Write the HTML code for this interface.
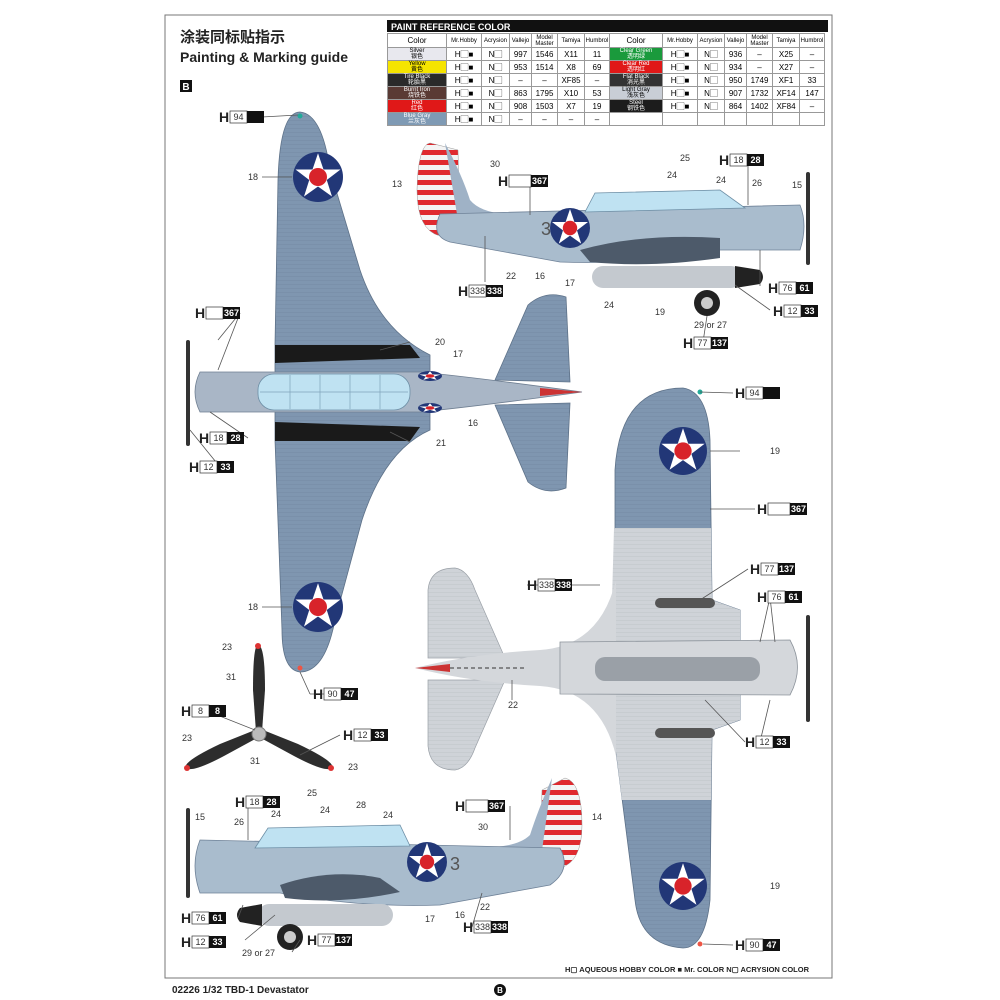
<!DOCTYPE html>
<html><head><meta charset="utf-8"><style>
body{margin:0;background:#fff;width:1000px;height:1000px;overflow:hidden;font-family:"Liberation Sans","Noto Sans CJK SC",sans-serif}
svg{position:absolute;left:0;top:0}
.n{font:9px "Liberation Sans",sans-serif;fill:#333}
.h{font:bold 14px "Liberation Sans",sans-serif;fill:#222}
.b{font:9px "Liberation Sans",sans-serif;fill:#333;text-anchor:middle}
.w{font:bold 9px "Liberation Sans",sans-serif;fill:#fff;text-anchor:middle}
.l{stroke:#555;stroke-width:.8;fill:none}
table{position:absolute;left:387px;top:33px;border-collapse:collapse;font-size:8px;text-align:center}
td{border:1px solid #999;height:11px;padding:0;line-height:9px}
.t{font-size:6px;line-height:6px}
</style></head><body>
<svg width="1000" height="1000" viewBox="0 0 1000 1000">
<defs>
<g id="rd"><circle r="1" fill="#223777"/><polygon fill="#fff" points="0,-0.95 0.22,-0.3 0.9,-0.3 0.35,0.12 0.56,0.78 0,0.38 -0.56,0.78 -0.35,0.12 -0.9,-0.3 -0.22,-0.3"/><circle r="0.36" fill="#d8232a"/></g>
<pattern id="pl" width="4" height="4" patternUnits="userSpaceOnUse"><rect width="4" height="4" fill="#7f96b0"/><line x1="0" y1="0" x2="4" y2="0" stroke="#6c829c" stroke-width=".6"/></pattern>
<pattern id="pg" width="4" height="4" patternUnits="userSpaceOnUse"><rect width="4" height="4" fill="#cfd3d8"/><line x1="0" y1="0" x2="4" y2="0" stroke="#b5bac0" stroke-width=".6"/></pattern>
<pattern id="st" width="10" height="10" patternUnits="userSpaceOnUse"><rect width="10" height="5" fill="#e02a2f"/><rect y="5" width="10" height="5" fill="#f4f4f4"/></pattern>
</defs>
<rect x="165" y="15" width="667" height="963" fill="none" stroke="#777" stroke-width="1"/>
<text x="180" y="42" style="font:bold 15px 'Noto Sans CJK SC',sans-serif;fill:#222">涂装同标贴指示</text>
<text x="180" y="62" style="font:bold 14px 'Liberation Sans',sans-serif;fill:#222">Painting &amp; Marking guide</text>
<rect x="180" y="80" width="12" height="12" fill="#111"/><text x="186" y="90" class="w" style="font-size:10px">B</text>
<rect x="387" y="20" width="441" height="12" fill="#111"/><text x="391" y="30" style="font:bold 9px 'Liberation Sans';fill:#fff">PAINT  REFERENCE COLOR</text>

<!-- TOP VIEW (left) -->
<path d="M275,345 L278,180 Q280,112 300,112 Q322,114 330,170 L360,270 Q380,330 430,355 L430,430 Q385,450 362,520 L335,620 Q325,672 300,672 Q282,670 282,630 L275,440 Z" fill="url(#pl)" stroke="#5d7188" stroke-width=".8"/>
<path d="M275,345 L410,345 L420,358 L275,363 Z" fill="#1a1a1a"/>
<path d="M275,422 L420,427 L410,441 L275,441 Z" fill="#1a1a1a"/>
<path d="M495,380 L528,305 Q545,290 566,297 L570,382 Z" fill="url(#pl)" stroke="#5d7188" stroke-width=".8"/>
<path d="M495,405 L528,482 Q545,496 566,488 L570,403 Z" fill="url(#pl)" stroke="#5d7188" stroke-width=".8"/>
<path d="M200,372 L420,372 Q480,378 582,392 Q480,406 420,412 L200,412 Q190,392 200,372 Z" fill="#a9b6c6" stroke="#6f7f92" stroke-width=".8"/>
<path d="M540,388 L582,392 L540,396 Z" fill="#c33"/>
<rect x="258" y="374" width="152" height="36" rx="16" fill="#bfe2f2" stroke="#6d8ea5" stroke-width=".8"/>
<g stroke="#7fa3ba" stroke-width=".7"><line x1="290" y1="375" x2="290" y2="409"/><line x1="320" y1="375" x2="320" y2="409"/><line x1="350" y1="375" x2="350" y2="409"/><line x1="380" y1="375" x2="380" y2="409"/><line x1="260" y1="392" x2="408" y2="392"/></g>
<use href="#rd" transform="translate(318,177) scale(25)"/>
<use href="#rd" transform="translate(318,607) scale(25)"/>
<use href="#rd" transform="translate(430,376) scale(12,5)"/>
<use href="#rd" transform="translate(430,408) scale(12,5)"/>
<rect x="186" y="340" width="4" height="106" rx="2" fill="#333"/>
<circle cx="300" cy="116" r="2.5" fill="#2a9"/><circle cx="300" cy="668" r="2.5" fill="#e54"/>

<!-- PROPELLER -->
<path d="M258,645 Q265,645 265,690 L262,732 L256,732 L253,690 Q253,645 258,645 Z" fill="#2d2d2d"/>
<path d="M186,768 Q182,762 220,744 L255,730 L259,737 L224,756 Q192,773 186,768 Z" fill="#2d2d2d"/>
<path d="M332,768 Q336,762 298,744 L263,730 L259,737 L294,756 Q326,773 332,768 Z" fill="#2d2d2d"/>
<circle cx="259" cy="734" r="7" fill="#bbb" stroke="#777"/>
<circle cx="258" cy="646" r="3" fill="#d33"/><circle cx="187" cy="768" r="3" fill="#d33"/><circle cx="331" cy="768" r="3" fill="#d33"/>

<!-- SIDE VIEW top-right -->
<path d="M430,143 Q418,145 417,190 Q417,230 440,236 L460,230 L458,150 Z" fill="url(#st)" stroke="#999" stroke-width=".5"/>
<path d="M445,143 Q462,175 470,200 Q480,212 505,214 L460,232 Z" fill="#9fb2c6"/>
<path d="M440,214 L800,205 Q808,225 800,250 L720,250 Q640,265 560,262 L450,242 Q430,236 440,214 Z" fill="#a9bccd" stroke="#6f8298" stroke-width=".8"/>
<path d="M585,212 L595,193 L720,190 L745,208 Z" fill="#bfe2f2" stroke="#6d8ea5" stroke-width=".8"/>
<path d="M580,250 Q640,233 720,238 L720,258 Q650,268 590,262 Z" fill="#4d5a6a"/>
<rect x="592" y="266" width="150" height="22" rx="11" fill="#c4c9cf"/><path d="M735,266 L760,270 Q766,277 760,284 L735,288 Z" fill="#222"/>
<circle cx="707" cy="303" r="13" fill="#222"/><circle cx="707" cy="303" r="6" fill="#ccc"/>
<rect x="806" y="172" width="4" height="93" rx="2" fill="#333"/>
<use href="#rd" transform="translate(570,228) scale(20)"/>
<text x="541" y="235" style="font:18px 'Liberation Sans';fill:#555">3</text>

<!-- SIDE VIEW bottom-left -->
<path d="M565,778 Q582,782 582,825 Q582,862 560,868 L540,862 L542,790 Z" fill="url(#st)" stroke="#999" stroke-width=".5"/>
<path d="M552,778 Q538,810 530,835 Q520,845 495,847 L540,865 Z" fill="#9fb2c6"/>
<path d="M560,848 L200,840 Q190,865 200,893 L280,893 Q360,908 440,905 L550,885 Q572,870 560,848 Z" fill="#a9bccd" stroke="#6f8298" stroke-width=".8"/>
<path d="M255,848 L268,828 L400,825 L410,846 Z" fill="#bfe2f2" stroke="#6d8ea5" stroke-width=".8"/>
<path d="M280,885 Q330,868 380,878 L400,892 Q340,905 285,898 Z" fill="#4d5a6a"/>
<rect x="258" y="904" width="135" height="22" rx="11" fill="#c4c9cf"/><path d="M262,904 L240,908 Q234,915 240,922 L262,926 Z" fill="#222"/>
<circle cx="290" cy="937" r="13" fill="#222"/><circle cx="290" cy="937" r="6" fill="#ccc"/>
<rect x="186" y="808" width="4" height="90" rx="2" fill="#333"/>
<use href="#rd" transform="translate(427,862) scale(20)"/>
<text x="450" y="870" style="font:18px 'Liberation Sans';fill:#555">3</text>

<!-- BOTTOM VIEW right -->
<path d="M615,640 L615,470 Q620,388 683,388 Q708,392 710,440 L712,600 L740,610 L740,720 L712,730 L710,900 Q705,948 683,948 Q640,945 635,900 L612,720 Z" fill="url(#pl)" stroke="#5d7188" stroke-width=".8"/>
<path d="M614,528 L711,528 L712,600 L740,610 L740,720 L712,730 L711,800 L622,800 L612,720 L612,600 Z" fill="url(#pg)"/>
<path d="M428,658 L428,590 Q430,568 455,568 Q468,570 475,590 L505,658 Z" fill="url(#pg)" stroke="#9aa0a7" stroke-width=".7"/>
<path d="M428,680 L428,746 Q430,770 455,770 Q468,768 475,748 L505,680 Z" fill="url(#pg)" stroke="#9aa0a7" stroke-width=".7"/>
<path d="M415,668 Q470,654 540,650 Q600,646 616,580 L616,756 Q600,690 540,686 Q470,682 415,668 Z" fill="#d4d7db"/>
<path d="M560,642 L790,640 Q805,667 790,695 L560,694 Z" fill="#d4d7db" stroke="#8c939b" stroke-width=".8"/>
<path d="M415,668 L450,664 L450,672 Z" fill="#c33"/>
<line x1="450" y1="668" x2="525" y2="668" stroke="#333" stroke-dasharray="4,3"/>
<rect x="595" y="657" width="165" height="24" rx="10" fill="#9aa0a7"/>
<rect x="655" y="598" width="60" height="10" rx="5" fill="#555"/><rect x="655" y="728" width="60" height="10" rx="5" fill="#555"/>
<rect x="806" y="615" width="4" height="107" rx="2" fill="#333"/>
<use href="#rd" transform="translate(683,451) scale(24)"/>
<use href="#rd" transform="translate(683,886) scale(24)"/>
<circle cx="700" cy="392" r="2.5" fill="#2a9"/><circle cx="700" cy="944" r="2.5" fill="#e54"/>

<!-- leader lines -->
<g class="l">
<line x1="262" y1="117" x2="298" y2="115"/><line x1="262" y1="177" x2="292" y2="177"/><line x1="240" y1="313" x2="218" y2="340"/>
<line x1="240" y1="313" x2="218" y2="370"/><line x1="262" y1="607" x2="292" y2="607"/><line x1="410" y1="342" x2="380" y2="350"/>
<line x1="410" y1="442" x2="390" y2="432"/><line x1="248" y1="438" x2="210" y2="412"/><line x1="220" y1="467" x2="190" y2="430"/>
<line x1="300" y1="672" x2="310" y2="694"/><line x1="310" y1="694" x2="328" y2="694"/>
<line x1="207" y1="711" x2="255" y2="730"/><line x1="340" y1="735" x2="300" y2="755"/>
<line x1="733" y1="393" x2="700" y2="392"/><line x1="740" y1="451" x2="710" y2="451"/><line x1="755" y1="509" x2="710" y2="509"/>
<line x1="527" y1="585" x2="600" y2="585"/><line x1="748" y1="569" x2="700" y2="600"/><line x1="770" y1="597" x2="760" y2="642"/><line x1="770" y1="597" x2="775" y2="642"/>
<line x1="745" y1="742" x2="705" y2="700"/><line x1="760" y1="742" x2="770" y2="700"/><line x1="733" y1="945" x2="703" y2="944"/>
<line x1="748" y1="160" x2="748" y2="205"/><line x1="760" y1="286" x2="760" y2="250"/><line x1="770" y1="310" x2="735" y2="285"/>
<line x1="703" y1="342" x2="707" y2="316"/><line x1="485" y1="282" x2="485" y2="236"/><line x1="530" y1="183" x2="530" y2="215"/>
<line x1="248" y1="802" x2="248" y2="840"/><line x1="238" y1="918" x2="243" y2="905"/><line x1="245" y1="940" x2="275" y2="915"/>
<line x1="300" y1="940" x2="292" y2="952"/><line x1="472" y1="927" x2="482" y2="893"/><line x1="510" y1="806" x2="510" y2="840"/>
<line x1="512" y1="700" x2="512" y2="680"/>
</g>

<!-- H labels -->
<g>
<g transform="translate(219,117)"><text class="h" y="5">H</text><rect x="11" y="-6" width="17" height="12" fill="#fff" stroke="#333" stroke-width=".7"/><text x="19.5" y="3" class="b">94</text><rect x="28" y="-6" width="17" height="12" fill="#111"/></g>
<g transform="translate(195,313)"><text class="h" y="5">H</text><rect x="11" y="-6" width="17" height="12" fill="#fff" stroke="#333" stroke-width=".7"/><rect x="28" y="-6" width="17" height="12" fill="#111"/><text x="36.5" y="3" class="w">367</text></g>
<g transform="translate(199,438)"><text class="h" y="5">H</text><rect x="11" y="-6" width="17" height="12" fill="#fff" stroke="#333" stroke-width=".7"/><text x="19.5" y="3" class="b">18</text><rect x="28" y="-6" width="17" height="12" fill="#111"/><text x="36.5" y="3" class="w">28</text></g>
<g transform="translate(189,467)"><text class="h" y="5">H</text><rect x="11" y="-6" width="17" height="12" fill="#fff" stroke="#333" stroke-width=".7"/><text x="19.5" y="3" class="b">12</text><rect x="28" y="-6" width="17" height="12" fill="#111"/><text x="36.5" y="3" class="w">33</text></g>
<g transform="translate(313,694)"><text class="h" y="5">H</text><rect x="11" y="-6" width="17" height="12" fill="#fff" stroke="#333" stroke-width=".7"/><text x="19.5" y="3" class="b">90</text><rect x="28" y="-6" width="17" height="12" fill="#111"/><text x="36.5" y="3" class="w">47</text></g>
<g transform="translate(181,711)"><text class="h" y="5">H</text><rect x="11" y="-6" width="17" height="12" fill="#fff" stroke="#333" stroke-width=".7"/><text x="19.5" y="3" class="b">8</text><rect x="28" y="-6" width="17" height="12" fill="#111"/><text x="36.5" y="3" class="w">8</text></g>
<g transform="translate(343,735)"><text class="h" y="5">H</text><rect x="11" y="-6" width="17" height="12" fill="#fff" stroke="#333" stroke-width=".7"/><text x="19.5" y="3" class="b">12</text><rect x="28" y="-6" width="17" height="12" fill="#111"/><text x="36.5" y="3" class="w">33</text></g>
<g transform="translate(719,160)"><text class="h" y="5">H</text><rect x="11" y="-6" width="17" height="12" fill="#fff" stroke="#333" stroke-width=".7"/><text x="19.5" y="3" class="b">18</text><rect x="28" y="-6" width="17" height="12" fill="#111"/><text x="36.5" y="3" class="w">28</text></g>
<g transform="translate(498,181)"><text class="h" y="5">H</text><rect x="11" y="-6" width="22" height="12" fill="#fff" stroke="#333" stroke-width=".7"/><rect x="33" y="-6" width="17" height="12" fill="#111"/><text x="41.5" y="3" class="w">367</text></g>
<g transform="translate(458,291)"><text class="h" y="5">H</text><rect x="11" y="-6" width="17" height="12" fill="#fff" stroke="#333" stroke-width=".7"/><text x="19.5" y="3" class="b">338</text><rect x="28" y="-6" width="17" height="12" fill="#111"/><text x="36.5" y="3" class="w">338</text></g>
<g transform="translate(768,288)"><text class="h" y="5">H</text><rect x="11" y="-6" width="17" height="12" fill="#fff" stroke="#333" stroke-width=".7"/><text x="19.5" y="3" class="b">76</text><rect x="28" y="-6" width="17" height="12" fill="#111"/><text x="36.5" y="3" class="w">61</text></g>
<g transform="translate(773,311)"><text class="h" y="5">H</text><rect x="11" y="-6" width="17" height="12" fill="#fff" stroke="#333" stroke-width=".7"/><text x="19.5" y="3" class="b">12</text><rect x="28" y="-6" width="17" height="12" fill="#111"/><text x="36.5" y="3" class="w">33</text></g>
<g transform="translate(683,343)"><text class="h" y="5">H</text><rect x="11" y="-6" width="17" height="12" fill="#fff" stroke="#333" stroke-width=".7"/><text x="19.5" y="3" class="b">77</text><rect x="28" y="-6" width="17" height="12" fill="#111"/><text x="36.5" y="3" class="w">137</text></g>
<g transform="translate(735,393)"><text class="h" y="5">H</text><rect x="11" y="-6" width="17" height="12" fill="#fff" stroke="#333" stroke-width=".7"/><text x="19.5" y="3" class="b">94</text><rect x="28" y="-6" width="17" height="12" fill="#111"/></g>
<g transform="translate(757,509)"><text class="h" y="5">H</text><rect x="11" y="-6" width="22" height="12" fill="#fff" stroke="#333" stroke-width=".7"/><rect x="33" y="-6" width="17" height="12" fill="#111"/><text x="41.5" y="3" class="w">367</text></g>
<g transform="translate(527,585)"><text class="h" y="5">H</text><rect x="11" y="-6" width="17" height="12" fill="#fff" stroke="#333" stroke-width=".7"/><text x="19.5" y="3" class="b">338</text><rect x="28" y="-6" width="17" height="12" fill="#111"/><text x="36.5" y="3" class="w">338</text></g>
<g transform="translate(750,569)"><text class="h" y="5">H</text><rect x="11" y="-6" width="17" height="12" fill="#fff" stroke="#333" stroke-width=".7"/><text x="19.5" y="3" class="b">77</text><rect x="28" y="-6" width="17" height="12" fill="#111"/><text x="36.5" y="3" class="w">137</text></g>
<g transform="translate(757,597)"><text class="h" y="5">H</text><rect x="11" y="-6" width="17" height="12" fill="#fff" stroke="#333" stroke-width=".7"/><text x="19.5" y="3" class="b">76</text><rect x="28" y="-6" width="17" height="12" fill="#111"/><text x="36.5" y="3" class="w">61</text></g>
<g transform="translate(745,742)"><text class="h" y="5">H</text><rect x="11" y="-6" width="17" height="12" fill="#fff" stroke="#333" stroke-width=".7"/><text x="19.5" y="3" class="b">12</text><rect x="28" y="-6" width="17" height="12" fill="#111"/><text x="36.5" y="3" class="w">33</text></g>
<g transform="translate(735,945)"><text class="h" y="5">H</text><rect x="11" y="-6" width="17" height="12" fill="#fff" stroke="#333" stroke-width=".7"/><text x="19.5" y="3" class="b">90</text><rect x="28" y="-6" width="17" height="12" fill="#111"/><text x="36.5" y="3" class="w">47</text></g>
<g transform="translate(235,802)"><text class="h" y="5">H</text><rect x="11" y="-6" width="17" height="12" fill="#fff" stroke="#333" stroke-width=".7"/><text x="19.5" y="3" class="b">18</text><rect x="28" y="-6" width="17" height="12" fill="#111"/><text x="36.5" y="3" class="w">28</text></g>
<g transform="translate(455,806)"><text class="h" y="5">H</text><rect x="11" y="-6" width="22" height="12" fill="#fff" stroke="#333" stroke-width=".7"/><rect x="33" y="-6" width="17" height="12" fill="#111"/><text x="41.5" y="3" class="w">367</text></g>
<g transform="translate(181,918)"><text class="h" y="5">H</text><rect x="11" y="-6" width="17" height="12" fill="#fff" stroke="#333" stroke-width=".7"/><text x="19.5" y="3" class="b">76</text><rect x="28" y="-6" width="17" height="12" fill="#111"/><text x="36.5" y="3" class="w">61</text></g>
<g transform="translate(181,942)"><text class="h" y="5">H</text><rect x="11" y="-6" width="17" height="12" fill="#fff" stroke="#333" stroke-width=".7"/><text x="19.5" y="3" class="b">12</text><rect x="28" y="-6" width="17" height="12" fill="#111"/><text x="36.5" y="3" class="w">33</text></g>
<g transform="translate(307,940)"><text class="h" y="5">H</text><rect x="11" y="-6" width="17" height="12" fill="#fff" stroke="#333" stroke-width=".7"/><text x="19.5" y="3" class="b">77</text><rect x="28" y="-6" width="17" height="12" fill="#111"/><text x="36.5" y="3" class="w">137</text></g>
<g transform="translate(463,927)"><text class="h" y="5">H</text><rect x="11" y="-6" width="17" height="12" fill="#fff" stroke="#333" stroke-width=".7"/><text x="19.5" y="3" class="b">338</text><rect x="28" y="-6" width="17" height="12" fill="#111"/><text x="36.5" y="3" class="w">338</text></g>
</g>

<!-- numbers -->
<g class="n">
<text x="248" y="180">18</text><text x="248" y="610">18</text><text x="435" y="345">20</text><text x="453" y="357">17</text><text x="468" y="426">16</text><text x="436" y="446">21</text>
<text x="222" y="650">23</text><text x="226" y="680">31</text><text x="182" y="741">23</text><text x="250" y="764">31</text><text x="348" y="770">23</text>
<text x="490" y="167">30</text><text x="392" y="187">13</text><text x="680" y="161">25</text><text x="667" y="178">24</text><text x="716" y="183">24</text><text x="752" y="186">26</text><text x="792" y="188">15</text>
<text x="506" y="279">22</text><text x="535" y="279">16</text><text x="565" y="286">17</text><text x="604" y="308">24</text><text x="655" y="315">19</text><text x="694" y="328">29 or 27</text>
<text x="770" y="454">19</text><text x="508" y="708">22</text><text x="770" y="889">19</text>
<text x="307" y="796">25</text><text x="320" y="813">24</text><text x="271" y="817">24</text><text x="356" y="808">28</text><text x="383" y="818">24</text><text x="234" y="825">26</text><text x="195" y="820">15</text>
<text x="478" y="830">30</text><text x="592" y="820">14</text><text x="425" y="922">17</text><text x="455" y="918">16</text><text x="480" y="910">22</text><text x="242" y="956">29 or 27</text>
</g>

<text x="172" y="993" style="font:bold 10px 'Liberation Sans';fill:#222">02226 1/32 TBD-1 Devastator</text>
<circle cx="500" cy="990" r="6" fill="#111"/><text x="500" y="993" class="w" style="font-size:8px">B</text>
<text x="565" y="972" style="font:bold 7.5px 'Liberation Sans';fill:#222">H▢ AQUEOUS HOBBY COLOR   ■ Mr. COLOR   N▢ ACRYSION COLOR</text>
</svg>
<table>
<tr style="height:14px"><td style="width:58px;font-size:8px">Color</td><td style="width:34px" class="t">Mr.Hobby</td><td style="width:27px" class="t">Acrysion</td><td style="width:21px" class="t">Vallejo</td><td style="width:25px" class="t">Model Master</td><td style="width:26px" class="t">Tamiya</td><td style="width:24px" class="t">Humbrol</td><td style="width:52px">Color</td><td style="width:34px" class="t">Mr.Hobby</td><td style="width:26px" class="t">Acrysion</td><td style="width:21px" class="t">Vallejo</td><td style="width:25px" class="t">Model Master</td><td style="width:26px" class="t">Tamiya</td><td style="width:24px" class="t">Humbrol</td></tr>
<tr><td class="t" style="background:#e8e8ee">Silver<br>银色</td><td>H▢■</td><td>N▢</td><td>997</td><td>1546</td><td>X11</td><td>11</td><td class="t" style="background:#1a9a3c;color:#fff">Clear Green<br>透明绿</td><td>H▢■</td><td>N▢</td><td>936</td><td>–</td><td>X25</td><td>–</td></tr>
<tr><td class="t" style="background:#f5e400">Yellow<br>黄色</td><td>H▢■</td><td>N▢</td><td>953</td><td>1514</td><td>X8</td><td>69</td><td class="t" style="background:#e01818;color:#fff">Clear Red<br>透明红</td><td>H▢■</td><td>N▢</td><td>934</td><td>–</td><td>X27</td><td>–</td></tr>
<tr><td class="t" style="background:#2a2a2a;color:#fff">Tire Black<br>轮胎黑</td><td>H▢■</td><td>N▢</td><td>–</td><td>–</td><td>XF85</td><td>–</td><td class="t" style="background:#333;color:#fff">Flat Black<br>消光黑</td><td>H▢■</td><td>N▢</td><td>950</td><td>1749</td><td>XF1</td><td>33</td></tr>
<tr><td class="t" style="background:#5a3a34;color:#fff">Burnt Iron<br>烧铁色</td><td>H▢■</td><td>N▢</td><td>863</td><td>1795</td><td>X10</td><td>53</td><td class="t" style="background:#c9ced6">Light Gray<br>浅灰色</td><td>H▢■</td><td>N▢</td><td>907</td><td>1732</td><td>XF14</td><td>147</td></tr>
<tr><td class="t" style="background:#e01818;color:#fff">Red<br>红色</td><td>H▢■</td><td>N▢</td><td>908</td><td>1503</td><td>X7</td><td>19</td><td class="t" style="background:#1c1c1c;color:#fff">Steel<br>钢铁色</td><td>H▢■</td><td>N▢</td><td>864</td><td>1402</td><td>XF84</td><td>–</td></tr>
<tr><td class="t" style="background:#7f9ab4;color:#fff">Blue Gray<br>兰灰色</td><td>H▢■</td><td>N▢</td><td>–</td><td>–</td><td>–</td><td>–</td><td></td><td></td><td></td><td></td><td></td><td></td><td></td></tr>
</table>
</body></html>
